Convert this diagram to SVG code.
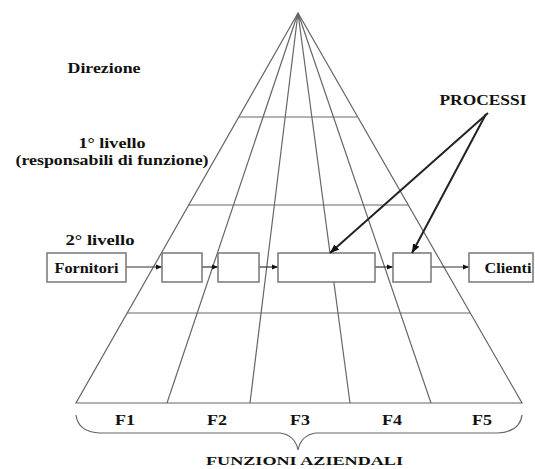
<svg xmlns="http://www.w3.org/2000/svg" width="535" height="469" viewBox="0 0 535 469">
<defs>
<style>
.t{font-family:"Liberation Serif","Times New Roman",serif;font-weight:bold;font-size:14px;fill:#111}
.g{stroke:#666;stroke-width:1.2;fill:none}
.box{fill:#fff;stroke:#777;stroke-width:1.5}
.ar{stroke:#333;stroke-width:1.2;fill:none}
.ar2{stroke:#222;stroke-width:2;fill:none}
</style>
<marker id="ah" viewBox="0 0 10 10" refX="10" refY="5" markerWidth="6" markerHeight="6" orient="auto" markerUnits="userSpaceOnUse">
<path d="M0,1 L10,5 L0,9 Z" fill="#111"/>
</marker>
<marker id="ah2" viewBox="0 0 10 10" refX="10" refY="5" markerWidth="9" markerHeight="9" orient="auto" markerUnits="userSpaceOnUse">
<path d="M0,1 L10,5 L0,9 Z" fill="#111"/>
</marker>
</defs>
<rect width="535" height="469" fill="#fff"/>
<g id="pyramid">
<path class="g" d="M298,13 L76,403 L522,403 Z"/>
<path class="g" d="M298,13 L167,403 M298,13 L250,403 M298,13 L350,403 M298,13 L431,403"/>
<path class="g" d="M239,117 L357,117 M189,205 L409,205 M127,313 L470,313"/>
</g>
<g id="connectors">
<line class="ar" x1="126" y1="267" x2="162" y2="267" marker-end="url(#ah)"/>
<line class="ar" x1="202" y1="267" x2="218" y2="267" marker-end="url(#ah)"/>
<line class="ar" x1="259" y1="267" x2="278" y2="267" marker-end="url(#ah)"/>
<line class="ar" x1="375" y1="267" x2="393" y2="267" marker-end="url(#ah)"/>
<line class="ar" x1="431" y1="267" x2="469" y2="267" marker-end="url(#ah)"/>
</g>
<g id="fornitori"><rect class="box" x="47" y="253" width="79" height="29"/><text class="t" x="86.5" y="273" text-anchor="middle" textLength="64" lengthAdjust="spacingAndGlyphs">Fornitori</text></g>
<g id="p1"><rect class="box" x="162" y="253" width="40" height="29"/></g>
<g id="p2"><rect class="box" x="218" y="253" width="41" height="29"/></g>
<g id="p3"><rect class="box" x="278" y="253" width="97" height="29"/></g>
<g id="p4"><rect class="box" x="393" y="253" width="38" height="29"/></g>
<g id="clienti"><rect class="box" x="469" y="253" width="64" height="29"/><text class="t" x="508" y="273" text-anchor="middle" textLength="47" lengthAdjust="spacingAndGlyphs">Clienti</text></g>
<g id="processi">
<text class="t" x="483" y="105" text-anchor="middle" textLength="87" lengthAdjust="spacingAndGlyphs">PROCESSI</text>
<line class="ar2" x1="488" y1="113" x2="330" y2="253" marker-end="url(#ah2)"/>
<line class="ar2" x1="486" y1="114" x2="412" y2="253" marker-end="url(#ah2)"/>
</g>
<g id="levels">
<text class="t" x="104" y="73" text-anchor="middle" textLength="73" lengthAdjust="spacingAndGlyphs">Direzione</text>
<text class="t" x="112" y="148" text-anchor="middle" textLength="67" lengthAdjust="spacingAndGlyphs">1° livello</text>
<text class="t" x="112" y="165" text-anchor="middle" textLength="193" lengthAdjust="spacingAndGlyphs">(responsabili di funzione)</text>
<text class="t" x="100" y="245" text-anchor="middle" textLength="69" lengthAdjust="spacingAndGlyphs">2° livello</text>
</g>
<g id="functions">
<text class="t" x="125" y="425" text-anchor="middle" textLength="20" lengthAdjust="spacingAndGlyphs">F1</text>
<text class="t" x="217" y="425" text-anchor="middle" textLength="20" lengthAdjust="spacingAndGlyphs">F2</text>
<text class="t" x="300" y="425" text-anchor="middle" textLength="20" lengthAdjust="spacingAndGlyphs">F3</text>
<text class="t" x="392" y="425" text-anchor="middle" textLength="20" lengthAdjust="spacingAndGlyphs">F4</text>
<text class="t" x="482" y="425" text-anchor="middle" textLength="20" lengthAdjust="spacingAndGlyphs">F5</text>
<path class="g" d="M76,415 Q78,432 100,433 L280,433 Q295,435 298,450 Q301,435 316,433 L497,433 Q520,432 522,415"/>
<text class="t" x="304.5" y="465" text-anchor="middle" style="font-size:13px" textLength="197" lengthAdjust="spacingAndGlyphs">FUNZIONI AZIENDALI</text>
</g>
</svg>
